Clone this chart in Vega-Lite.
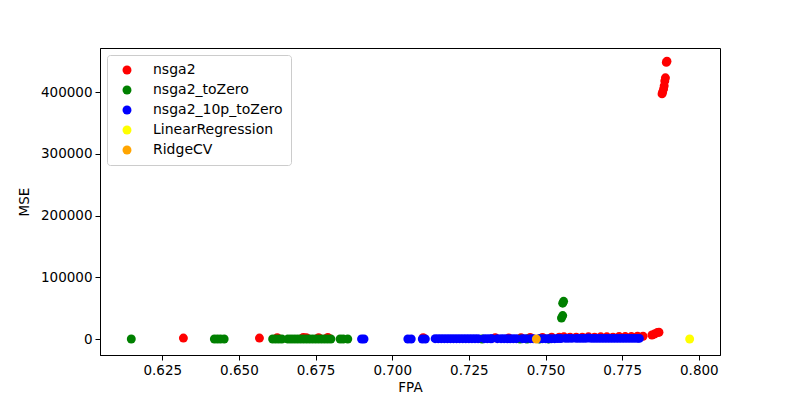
{
  "$schema": "https://vega.github.io/schema/vega-lite/v6.json",
  "autosize": "none",
  "width": 620,
  "height": 307,
  "padding": {"left": 100, "top": 48, "right": 80, "bottom": 45},
  "background": "white",
  "config": {
    "font": "DejaVu Sans",
    "view": {"stroke": "black", "strokeWidth": 1},
    "axis": {
      "domainColor": "black", "tickColor": "black", "labelColor": "black", "titleColor": "black",
      "labelFontSize": 13.5, "titleFontSize": 13.5, "titleFontWeight": "normal", "grid": false,
      "tickSize": 5, "labelPadding": 3, "labelFont": "DejaVu Sans", "titleFont": "DejaVu Sans"
    }
  },
  "data": {
    "values": [
      {"FPA": 0.6319, "MSE": 1500, "model": "nsga2"},
      {"FPA": 0.6567, "MSE": 1500, "model": "nsga2"},
      {"FPA": 0.6625, "MSE": 2000, "model": "nsga2"},
      {"FPA": 0.6710, "MSE": 2500, "model": "nsga2"},
      {"FPA": 0.6720, "MSE": 2000, "model": "nsga2"},
      {"FPA": 0.6760, "MSE": 2000, "model": "nsga2"},
      {"FPA": 0.6790, "MSE": 2500, "model": "nsga2"},
      {"FPA": 0.7101, "MSE": 2000, "model": "nsga2"},
      {"FPA": 0.7336, "MSE": 2000, "model": "nsga2"},
      {"FPA": 0.7380, "MSE": 1500, "model": "nsga2"},
      {"FPA": 0.7420, "MSE": 2000, "model": "nsga2"},
      {"FPA": 0.7450, "MSE": 2500, "model": "nsga2"},
      {"FPA": 0.7490, "MSE": 2500, "model": "nsga2"},
      {"FPA": 0.7520, "MSE": 3000, "model": "nsga2"},
      {"FPA": 0.7545, "MSE": 3000, "model": "nsga2"},
      {"FPA": 0.7560, "MSE": 3500, "model": "nsga2"},
      {"FPA": 0.7580, "MSE": 3000, "model": "nsga2"},
      {"FPA": 0.7600, "MSE": 3000, "model": "nsga2"},
      {"FPA": 0.7620, "MSE": 3000, "model": "nsga2"},
      {"FPA": 0.7640, "MSE": 3500, "model": "nsga2"},
      {"FPA": 0.7660, "MSE": 3000, "model": "nsga2"},
      {"FPA": 0.7680, "MSE": 3500, "model": "nsga2"},
      {"FPA": 0.7700, "MSE": 3500, "model": "nsga2"},
      {"FPA": 0.7720, "MSE": 3000, "model": "nsga2"},
      {"FPA": 0.7740, "MSE": 4000, "model": "nsga2"},
      {"FPA": 0.7760, "MSE": 4000, "model": "nsga2"},
      {"FPA": 0.7780, "MSE": 4000, "model": "nsga2"},
      {"FPA": 0.7800, "MSE": 4500, "model": "nsga2"},
      {"FPA": 0.7818, "MSE": 4500, "model": "nsga2"},
      {"FPA": 0.7847, "MSE": 6500, "model": "nsga2"},
      {"FPA": 0.7855, "MSE": 8000, "model": "nsga2"},
      {"FPA": 0.7865, "MSE": 10500, "model": "nsga2"},
      {"FPA": 0.7870, "MSE": 11000, "model": "nsga2"},
      {"FPA": 0.7880, "MSE": 397000, "model": "nsga2"},
      {"FPA": 0.7882, "MSE": 400000, "model": "nsga2"},
      {"FPA": 0.7885, "MSE": 405000, "model": "nsga2"},
      {"FPA": 0.7887, "MSE": 410000, "model": "nsga2"},
      {"FPA": 0.7889, "MSE": 418000, "model": "nsga2"},
      {"FPA": 0.7891, "MSE": 423000, "model": "nsga2"},
      {"FPA": 0.7894, "MSE": 448000, "model": "nsga2"},
      {"FPA": 0.7896, "MSE": 450000, "model": "nsga2"},
      {"FPA": 0.6149, "MSE": 0, "model": "nsga2_toZero"},
      {"FPA": 0.6420, "MSE": 0, "model": "nsga2_toZero"},
      {"FPA": 0.6430, "MSE": 0, "model": "nsga2_toZero"},
      {"FPA": 0.6440, "MSE": 0, "model": "nsga2_toZero"},
      {"FPA": 0.6452, "MSE": 0, "model": "nsga2_toZero"},
      {"FPA": 0.6610, "MSE": 0, "model": "nsga2_toZero"},
      {"FPA": 0.6620, "MSE": 0, "model": "nsga2_toZero"},
      {"FPA": 0.6630, "MSE": 0, "model": "nsga2_toZero"},
      {"FPA": 0.6640, "MSE": 0, "model": "nsga2_toZero"},
      {"FPA": 0.6660, "MSE": 0, "model": "nsga2_toZero"},
      {"FPA": 0.6670, "MSE": 0, "model": "nsga2_toZero"},
      {"FPA": 0.6680, "MSE": 0, "model": "nsga2_toZero"},
      {"FPA": 0.6690, "MSE": 0, "model": "nsga2_toZero"},
      {"FPA": 0.6700, "MSE": 0, "model": "nsga2_toZero"},
      {"FPA": 0.6710, "MSE": 0, "model": "nsga2_toZero"},
      {"FPA": 0.6720, "MSE": 0, "model": "nsga2_toZero"},
      {"FPA": 0.6730, "MSE": 0, "model": "nsga2_toZero"},
      {"FPA": 0.6740, "MSE": 0, "model": "nsga2_toZero"},
      {"FPA": 0.6750, "MSE": 0, "model": "nsga2_toZero"},
      {"FPA": 0.6760, "MSE": 0, "model": "nsga2_toZero"},
      {"FPA": 0.6770, "MSE": 0, "model": "nsga2_toZero"},
      {"FPA": 0.6780, "MSE": 0, "model": "nsga2_toZero"},
      {"FPA": 0.6790, "MSE": 0, "model": "nsga2_toZero"},
      {"FPA": 0.6800, "MSE": 0, "model": "nsga2_toZero"},
      {"FPA": 0.6830, "MSE": 0, "model": "nsga2_toZero"},
      {"FPA": 0.6840, "MSE": 0, "model": "nsga2_toZero"},
      {"FPA": 0.6855, "MSE": 0, "model": "nsga2_toZero"},
      {"FPA": 0.7293, "MSE": 0, "model": "nsga2_toZero"},
      {"FPA": 0.7417, "MSE": 0, "model": "nsga2_toZero"},
      {"FPA": 0.7440, "MSE": 0, "model": "nsga2_toZero"},
      {"FPA": 0.7480, "MSE": 0, "model": "nsga2_toZero"},
      {"FPA": 0.7510, "MSE": 0, "model": "nsga2_toZero"},
      {"FPA": 0.7552, "MSE": 34000, "model": "nsga2_toZero"},
      {"FPA": 0.7556, "MSE": 38000, "model": "nsga2_toZero"},
      {"FPA": 0.7556, "MSE": 58000, "model": "nsga2_toZero"},
      {"FPA": 0.7559, "MSE": 61000, "model": "nsga2_toZero"},
      {"FPA": 0.6900, "MSE": 0, "model": "nsga2_10p_toZero"},
      {"FPA": 0.6908, "MSE": 0, "model": "nsga2_10p_toZero"},
      {"FPA": 0.7051, "MSE": 0, "model": "nsga2_10p_toZero"},
      {"FPA": 0.7062, "MSE": 0, "model": "nsga2_10p_toZero"},
      {"FPA": 0.7098, "MSE": 0, "model": "nsga2_10p_toZero"},
      {"FPA": 0.7108, "MSE": 0, "model": "nsga2_10p_toZero"},
      {"FPA": 0.7140, "MSE": 500, "model": "nsga2_10p_toZero"},
      {"FPA": 0.7150, "MSE": 500, "model": "nsga2_10p_toZero"},
      {"FPA": 0.7160, "MSE": 500, "model": "nsga2_10p_toZero"},
      {"FPA": 0.7170, "MSE": 500, "model": "nsga2_10p_toZero"},
      {"FPA": 0.7180, "MSE": 500, "model": "nsga2_10p_toZero"},
      {"FPA": 0.7190, "MSE": 500, "model": "nsga2_10p_toZero"},
      {"FPA": 0.7200, "MSE": 500, "model": "nsga2_10p_toZero"},
      {"FPA": 0.7210, "MSE": 500, "model": "nsga2_10p_toZero"},
      {"FPA": 0.7220, "MSE": 500, "model": "nsga2_10p_toZero"},
      {"FPA": 0.7230, "MSE": 500, "model": "nsga2_10p_toZero"},
      {"FPA": 0.7240, "MSE": 500, "model": "nsga2_10p_toZero"},
      {"FPA": 0.7250, "MSE": 500, "model": "nsga2_10p_toZero"},
      {"FPA": 0.7260, "MSE": 500, "model": "nsga2_10p_toZero"},
      {"FPA": 0.7270, "MSE": 500, "model": "nsga2_10p_toZero"},
      {"FPA": 0.7280, "MSE": 500, "model": "nsga2_10p_toZero"},
      {"FPA": 0.7300, "MSE": 500, "model": "nsga2_10p_toZero"},
      {"FPA": 0.7310, "MSE": 500, "model": "nsga2_10p_toZero"},
      {"FPA": 0.7320, "MSE": 500, "model": "nsga2_10p_toZero"},
      {"FPA": 0.7325, "MSE": 500, "model": "nsga2_10p_toZero"},
      {"FPA": 0.7343, "MSE": 500, "model": "nsga2_10p_toZero"},
      {"FPA": 0.7355, "MSE": 500, "model": "nsga2_10p_toZero"},
      {"FPA": 0.7365, "MSE": 500, "model": "nsga2_10p_toZero"},
      {"FPA": 0.7375, "MSE": 500, "model": "nsga2_10p_toZero"},
      {"FPA": 0.7385, "MSE": 500, "model": "nsga2_10p_toZero"},
      {"FPA": 0.7395, "MSE": 500, "model": "nsga2_10p_toZero"},
      {"FPA": 0.7405, "MSE": 500, "model": "nsga2_10p_toZero"},
      {"FPA": 0.7425, "MSE": 500, "model": "nsga2_10p_toZero"},
      {"FPA": 0.7435, "MSE": 500, "model": "nsga2_10p_toZero"},
      {"FPA": 0.7450, "MSE": 500, "model": "nsga2_10p_toZero"},
      {"FPA": 0.7460, "MSE": 500, "model": "nsga2_10p_toZero"},
      {"FPA": 0.7480, "MSE": 500, "model": "nsga2_10p_toZero"},
      {"FPA": 0.7490, "MSE": 500, "model": "nsga2_10p_toZero"},
      {"FPA": 0.7500, "MSE": 500, "model": "nsga2_10p_toZero"},
      {"FPA": 0.7510, "MSE": 500, "model": "nsga2_10p_toZero"},
      {"FPA": 0.7520, "MSE": 500, "model": "nsga2_10p_toZero"},
      {"FPA": 0.7530, "MSE": 500, "model": "nsga2_10p_toZero"},
      {"FPA": 0.7540, "MSE": 800, "model": "nsga2_10p_toZero"},
      {"FPA": 0.7550, "MSE": 800, "model": "nsga2_10p_toZero"},
      {"FPA": 0.7565, "MSE": 1000, "model": "nsga2_10p_toZero"},
      {"FPA": 0.7575, "MSE": 1000, "model": "nsga2_10p_toZero"},
      {"FPA": 0.7586, "MSE": 1000, "model": "nsga2_10p_toZero"},
      {"FPA": 0.7600, "MSE": 1000, "model": "nsga2_10p_toZero"},
      {"FPA": 0.7610, "MSE": 1000, "model": "nsga2_10p_toZero"},
      {"FPA": 0.7620, "MSE": 1000, "model": "nsga2_10p_toZero"},
      {"FPA": 0.7630, "MSE": 1000, "model": "nsga2_10p_toZero"},
      {"FPA": 0.7640, "MSE": 1500, "model": "nsga2_10p_toZero"},
      {"FPA": 0.7650, "MSE": 1000, "model": "nsga2_10p_toZero"},
      {"FPA": 0.7660, "MSE": 1000, "model": "nsga2_10p_toZero"},
      {"FPA": 0.7670, "MSE": 1000, "model": "nsga2_10p_toZero"},
      {"FPA": 0.7680, "MSE": 1000, "model": "nsga2_10p_toZero"},
      {"FPA": 0.7690, "MSE": 1000, "model": "nsga2_10p_toZero"},
      {"FPA": 0.7700, "MSE": 1000, "model": "nsga2_10p_toZero"},
      {"FPA": 0.7710, "MSE": 1000, "model": "nsga2_10p_toZero"},
      {"FPA": 0.7720, "MSE": 1000, "model": "nsga2_10p_toZero"},
      {"FPA": 0.7730, "MSE": 1000, "model": "nsga2_10p_toZero"},
      {"FPA": 0.7740, "MSE": 1000, "model": "nsga2_10p_toZero"},
      {"FPA": 0.7750, "MSE": 1000, "model": "nsga2_10p_toZero"},
      {"FPA": 0.7760, "MSE": 1000, "model": "nsga2_10p_toZero"},
      {"FPA": 0.7770, "MSE": 1000, "model": "nsga2_10p_toZero"},
      {"FPA": 0.7780, "MSE": 1000, "model": "nsga2_10p_toZero"},
      {"FPA": 0.7790, "MSE": 1000, "model": "nsga2_10p_toZero"},
      {"FPA": 0.7800, "MSE": 1000, "model": "nsga2_10p_toZero"},
      {"FPA": 0.7806, "MSE": 1000, "model": "nsga2_10p_toZero"},
      {"FPA": 0.7970, "MSE": 0, "model": "LinearRegression"},
      {"FPA": 0.7470, "MSE": 0, "model": "RidgeCV"}
    ]
  },
  "mark": {"type": "point", "shape": "circle", "filled": true, "opacity": 1, "size": 80, "strokeWidth": 0},
  "encoding": {
    "x": {
      "field": "FPA", "type": "quantitative", "title": "FPA",
      "scale": {"domain": [0.6047, 0.8069], "zero": false, "nice": false},
      "axis": {"values": [0.625, 0.65, 0.675, 0.7, 0.725, 0.75, 0.775, 0.8], "format": ".3f", "titlePadding": 4}
    },
    "y": {
      "field": "MSE", "type": "quantitative", "title": "MSE",
      "scale": {"domain": [-25900, 471300], "nice": false, "zero": false},
      "axis": {"values": [0, 100000, 200000, 300000, 400000], "format": "d", "titlePadding": 9}
    },
    "color": {
      "field": "model", "type": "nominal",
      "scale": {
        "domain": ["nsga2", "nsga2_toZero", "nsga2_10p_toZero", "LinearRegression", "RidgeCV"],
        "range": ["#ff0000", "#008000", "#0000ff", "#ffff00", "#ffa500"]
      },
      "legend": {
        "title": null, "orient": "top-left", "offset": 7, "padding": 8,
        "strokeColor": "#cccccc", "fillColor": "white", "cornerRadius": 3,
        "labelFontSize": 14, "labelFont": "DejaVu Sans", "labelColor": "black",
        "symbolSize": 80, "symbolType": "circle", "symbolStrokeWidth": 0,
        "rowPadding": 6, "labelOffset": 19, "symbolOffset": 5
      }
    }
  }
}
